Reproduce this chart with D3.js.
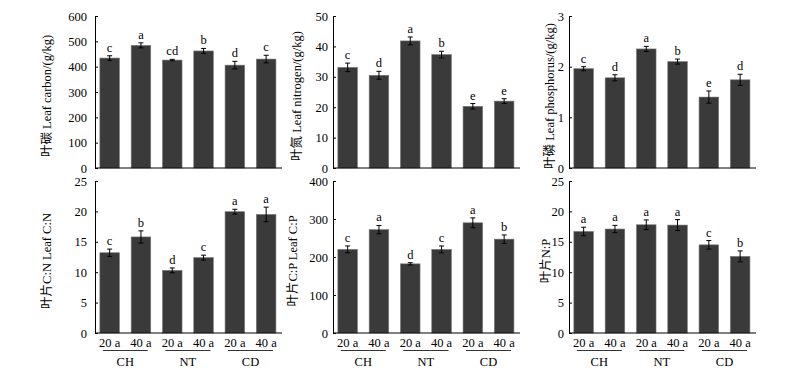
<!DOCTYPE html>
<html><head><meta charset="utf-8">
<script src="https://cdn.jsdelivr.net/npm/d3@7/dist/d3.min.js"></script>
<style>
body{margin:0;background:#fff;}
svg text{font-family:"Liberation Serif","Times New Roman","DejaVu Serif","Noto Sans CJK SC",serif;fill:#000;}
</style></head>
<body><svg id="c" width="800" height="376" font-family="Liberation Serif, Noto Sans CJK SC, serif"></svg>
<script>
// ---- data ----
const groups = ["CH", "NT", "CD"];
const ages = ["20 a", "40 a"];
const categories = ["CH 20 a", "CH 40 a", "NT 20 a", "NT 40 a", "CD 20 a", "CD 40 a"];

const carbon = [434, 484, 426, 462, 406, 430];
const carbonErr = [9, 10, 3, 10, 15, 15];
const carbonSig = ["c", "a", "cd", "b", "d", "c"];

const nitrogen = [33.1, 30.5, 41.8, 37.3, 20.3, 22.0];
const nitrogenErr = [1.4, 1.3, 1.3, 1.1, 0.9, 0.8];
const nitrogenSig = ["c", "d", "a", "b", "e", "e"];

const phosphorus = [1.96, 1.78, 2.35, 2.10, 1.40, 1.74];
const phosphorusErr = [0.04, 0.06, 0.05, 0.05, 0.12, 0.11];
const phosphorusSig = ["c", "d", "a", "b", "e", "d"];

const ratioCN = [13.2, 15.8, 10.3, 12.4, 19.95, 19.5];
const ratioCNErr = [0.6, 1.0, 0.4, 0.4, 0.4, 1.2];
const ratioCNSig = ["c", "b", "d", "c", "a", "a"];

const ratioCP = [220, 272, 182, 220, 290, 247];
const ratioCPErr = [9, 11, 3, 9, 13, 11];
const ratioCPSig = ["c", "a", "d", "c", "a", "b"];

const ratioNP = [16.7, 17.1, 17.8, 17.75, 14.5, 12.6];
const ratioNPErr = [0.7, 0.6, 0.8, 0.9, 0.7, 0.9];
const ratioNPSig = ["a", "a", "a", "a", "c", "b"];

const carbonTicks = [0, 100, 200, 300, 400, 500, 600];
const nitrogenTicks = [0, 10, 20, 30, 40, 50];
const phosphorusTicks = [0, 1, 2, 3];
const cnTicks = [0, 5, 10, 15, 20, 25];
const cpTicks = [0, 100, 200, 300, 400];
const npTicks = [0, 5, 10, 15, 20, 25];

const panels = [
  {vals: carbon, err: carbonErr, sig: carbonSig, ticks: carbonTicks, label: "叶碳 Leaf carbon/(g/kg)"},
  {vals: nitrogen, err: nitrogenErr, sig: nitrogenSig, ticks: nitrogenTicks, label: "叶氮 Leaf nitrogen/(g/kg)"},
  {vals: phosphorus, err: phosphorusErr, sig: phosphorusSig, ticks: phosphorusTicks, label: "叶磷 Leaf phosphorus/(g/kg)"},
  {vals: ratioCN, err: ratioCNErr, sig: ratioCNSig, ticks: cnTicks, label: "叶片C:N  Leaf C:N"},
  {vals: ratioCP, err: ratioCPErr, sig: ratioCPSig, ticks: cpTicks, label: "叶片C:P  Leaf C:P"},
  {vals: ratioNP, err: ratioNPErr, sig: ratioNPSig, ticks: npTicks, label: "叶片N:P"}
];

// ---- layout ----
const colX = [95, 333, 569];
const tickPad = [8, 5, 5];
const labelX = [[47, 297, 550], [47, 293, 546]];
const rowY = [[16, 168], [181, 333]];
const axisLen = 187;
const step = 31.3;
const FONT = "Liberation Serif, Times New Roman, Noto Sans CJK SC, serif";

const svg = d3.select("#c");

panels.forEach((p, i) => {
  const row = Math.floor(i / 3), col = i % 3;
  const x0 = colX[col];
  const [yTop, yBot] = rowY[row];
  const ymax = p.ticks[p.ticks.length - 1];
  const y = d3.scaleLinear().domain([0, ymax]).range([yBot, yTop]);
  const x = d3.scaleBand().domain(categories)
    .range([x0 - 1, x0 - 1 + step * 6]).paddingInner(0.375).paddingOuter(0.1875);

  const g = svg.append("g");

  // bars
  g.selectAll("rect.bar").data(p.vals).join("rect")
    .attr("x", (d, k) => x(categories[k]))
    .attr("width", x.bandwidth())
    .attr("y", d => y(d))
    .attr("height", d => yBot - y(d))
    .attr("fill", "#3a3a3a")
    .attr("stroke", "#777").attr("stroke-width", 0.6);

  // error bars + significance letters
  p.vals.forEach((v, k) => {
    const cx = x(categories[k]) + x.bandwidth() / 2;
    const e = p.err[k];
    const y1 = y(v + e), y2 = y(v - e);
    g.append("line").attr("x1", cx).attr("x2", cx).attr("y1", y1).attr("y2", y2)
      .attr("stroke", "#000").attr("stroke-width", 1);
    [y1, y2].forEach(yy => g.append("line").attr("x1", cx - 2.5).attr("x2", cx + 2.5)
      .attr("y1", yy).attr("y2", yy).attr("stroke", "#000").attr("stroke-width", 1));
    g.append("text").attr("x", cx).attr("y", y1 - 4).attr("text-anchor", "middle")
      .attr("font-family", FONT).attr("font-size", 12.5).text(p.sig[k]);
  });

  // y axis (inward ticks)
  const ax = d3.axisLeft(y).tickValues(p.ticks).tickFormat(d3.format("d"))
    .tickSizeInner(-3).tickSizeOuter(0).tickPadding(tickPad[col]);
  const ag = g.append("g").attr("transform", `translate(${x0},0)`).call(ax)
    .attr("font-family", FONT).attr("font-size", 12.5);
  ag.select(".domain").attr("stroke", "#000");
  ag.selectAll(".tick line").attr("stroke", "#000");
  ag.selectAll(".tick text").attr("fill", "#000");

  // x axis line
  g.append("line").attr("x1", x0).attr("x2", x0 + axisLen).attr("y1", yBot).attr("y2", yBot)
    .attr("stroke", "#000").attr("stroke-width", 1);

  // y label
  const lx = labelX[row][col], ly = (yTop + yBot) / 2 + 4;
  g.append("text").attr("transform", `translate(${lx},${ly}) rotate(-90)`)
    .attr("text-anchor", "middle").attr("dy", "0.35em")
    .attr("font-family", FONT).attr("font-size", 12.5)
    .text(p.label);

  // bottom category labels
  if (row === 1) {
    categories.forEach((c, k) => {
      const cx = x(c) + x.bandwidth() / 2;
      g.append("text").attr("x", cx).attr("y", yBot + 13.5).attr("text-anchor", "middle")
        .attr("font-family", FONT).attr("font-size", 12.5).text(ages[k % 2]);
    });
    groups.forEach((gr, j) => {
      const a = x(categories[2 * j]), b = x(categories[2 * j + 1]) + x.bandwidth();
      const mid = (a + b) / 2;
      g.append("line").attr("x1", mid - 22.5).attr("x2", mid + 22.5)
        .attr("y1", yBot + 17.5).attr("y2", yBot + 17.5).attr("stroke", "#000").attr("stroke-width", 0.8);
      g.append("text").attr("x", mid).attr("y", yBot + 33).attr("text-anchor", "middle")
        .attr("font-family", FONT).attr("font-size", 12.5).text(gr);
    });
  }
});
</script></body></html>
